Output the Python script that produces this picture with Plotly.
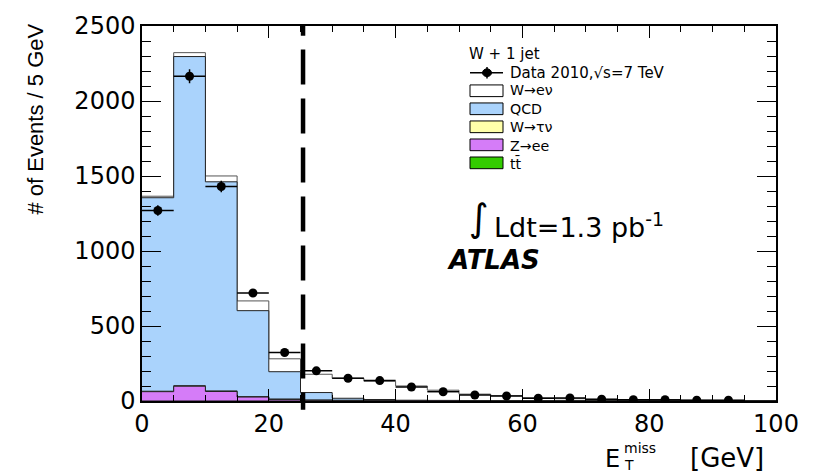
import numpy as np
import plotly.graph_objects as go

# E_T^miss histogram, W + 1 jet selection, 5 GeV bins from 0 to 100 GeV
BIN_WIDTH = 5
bin_edges = list(range(0, 101, BIN_WIDTH))

# Observed events per bin (last bin empty)
data_2010 = [1270, 2165, 1430, 720, 323, 201, 152, 136, 93, 62,
             40, 33, 18, 20, 12, 8, 8, 5, 5, None]

# Simulated contributions per bin
ttbar = [0.2, 0.3, 0.3, 0.3, 0.3, 0.3, 0.3, 0.3, 0.2, 0.2,
         0.2, 0.2, 0.1, 0.1, 0.1, 0.1, 0.1, 0.1, 0.1, 0.1]
z_ee = [62, 98, 63, 26, 10, 4, 2, 1.5, 1, 0.8,
        0.6, 0.5, 0.4, 0.3, 0.3, 0.2, 0.2, 0.1, 0.1, 0.1]
w_taunu = [3, 4, 4, 3, 3, 3, 3, 3, 2, 2,
           1.5, 1, 1, 0.8, 0.6, 0.5, 0.4, 0.3, 0.2, 0.2]
qcd = [1290, 2194, 1394, 573, 182, 49, 13, 5, 2, 1,
       0.5, 0.5, 0.3, 0.3, 0.2, 0.2, 0.1, 0.1, 0.1, 0.1]
w_enu = [10, 26, 39, 65, 86, 122, 133, 122, 95, 68,
         43, 33, 19, 14, 9.5, 7.5, 5.7, 4.7, 3.8, 2.8]

MET_CUT = 25.4  # E_T^miss selection threshold

y_ticks = [0, 500, 1000, 1500, 2000, 2500]
x_ticks = [0, 20, 40, 60, 80, 100]

legend_labels = ["W\u2192e\u03bd", "QCD", "W\u2192\u03c4\u03bd", "Z\u2192ee", "tt\u0304"]

# colours of the stack components
COL_WENU = "#ffffff"
COL_QCD = "#aad3fc"
COL_WTAU = "#ffffaa"
COL_ZEE = "#d57cf8"
COL_TT = "#33cc00"

FONT = "DejaVu Sans"

fig = go.Figure()

# cumulative stack: ttbar at the bottom, W->enu on top
stack_parts = [ttbar, z_ee, w_taunu, qcd, w_enu]
cumulative = np.cumsum(np.array(stack_parts, dtype=float), axis=0)
stack_styles = [
    (COL_TT, "#222222"),
    (COL_ZEE, "#222222"),
    (COL_WTAU, "#222222"),
    (COL_QCD, "#222222"),
    (COL_WENU, "#555555"),
]

# draw from the total downwards so each lower layer paints over the one above
for level in range(len(stack_parts) - 1, -1, -1):
    heights = list(cumulative[level])
    fill, line = stack_styles[level]
    fig.add_trace(go.Scatter(
        x=bin_edges,
        y=heights + [heights[-1]],
        mode="lines",
        line=dict(shape="hv", color=line, width=1),
        fill="tozeroy",
        fillcolor=fill,
        hoverinfo="skip",
        showlegend=False,
    ))

# data points with statistical errors and bin-width horizontal bars
centers = [e + BIN_WIDTH / 2 for e in bin_edges[:-1]]
dx, dy, dv = [], [], []
for c, v in zip(centers, data_2010):
    if v is None:
        continue
    dx.append(c)
    dv.append(v)
    dy.append(float(np.sqrt(v)))
fig.add_trace(go.Scatter(
    x=dx, y=dv, mode="markers",
    marker=dict(color="black", size=9),
    error_y=dict(type="data", array=dy, color="black", thickness=1.5, width=0),
    error_x=dict(type="constant", value=BIN_WIDTH / 2, color="black", thickness=1.5, width=0),
    showlegend=False,
))

# plot area in pixels
L, R, T, B = 142, 776, 16, 401
W_FIG, H_FIG = 826, 476


def px(xp):
    return (xp - L) / (R - L)


def py(yp):
    return (B - yp) / (B - T)


# vertical dashed line marking the cut: short leading piece, then regular dashes
cut_line = dict(color="black", width=4.5)
fig.add_shape(type="line", xref="x", yref="paper", x0=MET_CUT, x1=MET_CUT,
              y0=py(15), y1=py(26), line=cut_line, layer="above")
fig.add_shape(type="line", xref="x", yref="paper", x0=MET_CUT, x1=MET_CUT,
              y0=py(40), y1=py(410), line=dict(cut_line, dash="35px,14px"), layer="above")

annotations = []
shapes = []

# legend block
HEAD_FONT = dict(family=FONT, size=15, color="black")
annotations.append(dict(text="W + 1 jet", x=px(468), y=py(45), xref="paper", yref="paper",
                        xanchor="left", yanchor="middle", showarrow=False, borderpad=0,
                        font=HEAD_FONT))

DATA_ROW = 64
ROW_STEP = 18.5
row_y = [DATA_ROW + ROW_STEP * (i + 1) for i in range(len(legend_labels))]
# data entry: line with marker and vertical tick
shapes.append(dict(type="line", xref="paper", yref="paper",
                   x0=px(470), x1=px(503), y0=py(DATA_ROW), y1=py(DATA_ROW),
                   line=dict(color="black", width=1.5)))
shapes.append(dict(type="line", xref="paper", yref="paper",
                   x0=px(487), x1=px(487), y0=py(DATA_ROW - 6), y1=py(DATA_ROW + 6),
                   line=dict(color="black", width=1.5)))
shapes.append(dict(type="circle", xref="paper", yref="paper",
                   x0=px(482.5), x1=px(491.5), y0=py(DATA_ROW - 4), y1=py(DATA_ROW + 4),
                   fillcolor="black", line=dict(color="black", width=1)))
annotations.append(dict(text="Data 2010,\u221as=7 TeV", x=px(509), y=py(DATA_ROW),
                        xref="paper", yref="paper", xanchor="left", yanchor="middle",
                        showarrow=False, borderpad=0, font=HEAD_FONT))

legend_colors = [COL_WENU, COL_QCD, COL_WTAU, COL_ZEE, COL_TT]
for col, yr in zip(legend_colors, row_y):
    shapes.append(dict(type="rect", xref="paper", yref="paper",
                       x0=px(470), x1=px(503), y0=py(yr - 6), y1=py(yr + 6),
                       fillcolor=col, line=dict(color="black", width=1)))
# the labels as one block so the line spacing follows the font (1.3 x size)
annotations.append(dict(text="<br>".join(legend_labels), x=px(509),
                        y=py((row_y[0] + row_y[-1]) / 2),
                        xref="paper", yref="paper", xanchor="left", yanchor="middle",
                        align="left", showarrow=False, borderpad=0,
                        font=dict(family=FONT, size=ROW_STEP / 1.3, color="black")))

# luminosity and experiment label
annotations.append(dict(text="\u222b", x=px(479), y=py(213), xref="paper", yref="paper",
                        xanchor="center", yanchor="middle", showarrow=False, borderpad=0,
                        font=dict(family=FONT, size=38, color="black")))
annotations.append(dict(text="Ldt=1.3 pb<sup>-1</sup>", x=px(493), y=py(221), xref="paper",
                        yref="paper", xanchor="left", yanchor="middle", showarrow=False,
                        borderpad=0, font=dict(family=FONT, size=27, color="black")))
annotations.append(dict(text="<b><i>ATLAS</i></b>", x=px(446), y=py(256), xref="paper",
                        yref="paper", xanchor="left", yanchor="middle", showarrow=False,
                        borderpad=0, font=dict(family=FONT, size=26, color="black")))

# axis titles
annotations.append(dict(text="# of Events / 5 GeV", textangle=-90, x=px(36), y=py(12),
                        xref="paper", yref="paper", xanchor="center", yanchor="top",
                        showarrow=False,
                        font=dict(family="Liberation Sans", size=22, color="black")))
annotations.append(dict(text="E", x=px(604), y=py(476), xref="paper", yref="paper",
                        xanchor="left", yanchor="bottom", showarrow=False, borderpad=0,
                        font=dict(family=FONT, size=24, color="black")))
annotations.append(dict(text="miss", x=px(623), y=py(449), xref="paper", yref="paper",
                        xanchor="left", yanchor="middle", showarrow=False, borderpad=0,
                        font=dict(family=FONT, size=14, color="black")))
annotations.append(dict(text="T", x=px(623), y=py(476), xref="paper", yref="paper",
                        xanchor="left", yanchor="bottom", showarrow=False, borderpad=0,
                        font=dict(family=FONT, size=14, color="black")))
annotations.append(dict(text="[GeV]", x=px(727), y=py(476), xref="paper", yref="paper",
                        xanchor="center", yanchor="bottom", showarrow=False, borderpad=0,
                        font=dict(family=FONT, size=26, color="black")))

for s in shapes:
    fig.add_shape(**s)

axis_common = dict(
    showgrid=False, zeroline=False,
    showline=True, linecolor="black", linewidth=1.5,
    mirror="allticks", ticks="inside", tickcolor="black", tickwidth=1.2,
    tickfont=dict(family=FONT, size=24, color="black"),
)
fig.update_xaxes(
    range=[0, 100], tickvals=x_ticks, ticklen=12,
    minor=dict(dtick=5, ticks="inside", ticklen=6, tickcolor="black", tickwidth=1, showgrid=False),
    **axis_common,
)
fig.update_yaxes(
    range=[0, 2500], tickvals=y_ticks, ticklen=19,
    minor=dict(dtick=100, ticks="inside", ticklen=9, tickcolor="black", tickwidth=1, showgrid=False),
    **axis_common,
)

fig.update_layout(
    width=W_FIG, height=H_FIG,
    margin=dict(l=L, r=W_FIG - R, t=T, b=H_FIG - B),
    paper_bgcolor="white", plot_bgcolor="white",
    showlegend=False,
    annotations=annotations,
)

fig.write_html("out.html")
